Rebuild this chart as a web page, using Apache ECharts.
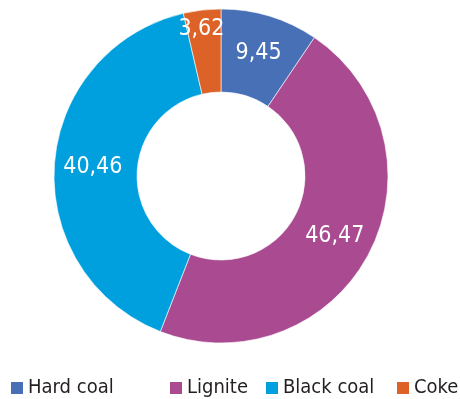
<!DOCTYPE html>
<html><head><meta charset="utf-8">
<script src="https://cdn.jsdelivr.net/npm/echarts@6/dist/echarts.min.js"></script>
<style>html,body{margin:0;padding:0;background:#fff}#c{width:460px;height:399px}</style>
</head><body><div id="c"></div>
<script>
const categories = ['Hard coal', 'Lignite', 'Black coal', 'Coke'];
const values = [9.45, 46.47, 40.46, 3.62];
const colors = ['#4870B7', '#AA4B92', '#00A0DE', '#DC6228'];
const FONT = '"DejaVu Sans Condensed", sans-serif';

const chart = echarts.init(document.getElementById('c'), null, {renderer: 'canvas'});
const legendLefts = [9, 168, 264, 395];
const legends = categories.map((n, i) => ({
  data: [n], left: legendLefts[i], top: 378, orient: 'horizontal',
  itemWidth: 14, itemHeight: 14, itemGap: 0, icon: 'rect', padding: 0,
  selectedMode: false,
  textStyle: {fontFamily: FONT, fontSize: 20, color: '#231F20', padding: [0, 0, 0, -1]}
}));
chart.setOption({
  animation: false,
  color: colors,
  legend: legends,
  series: [{
    type: 'pie',
    center: [221, 176],
    radius: [84, 167],
    startAngle: 90,
    clockwise: true,
    avoidLabelOverlap: false,
    emphasis: {disabled: true},
    itemStyle: {borderColor: '#ffffff', borderWidth: 0.6},
    label: {
      show: true, position: 'inside', color: '#ffffff',
      fontFamily: FONT, fontSize: 23,
      formatter: p => String(p.value).replace('.', ',')
    },
    labelLine: {show: false},
    data: categories.map((n, i) => {
      const d = {name: n, value: values[i]};
      if (n === 'Coke') d.label = {offset: [-5, -19]};
      return d;
    })
  }]
});
</script></body></html>
